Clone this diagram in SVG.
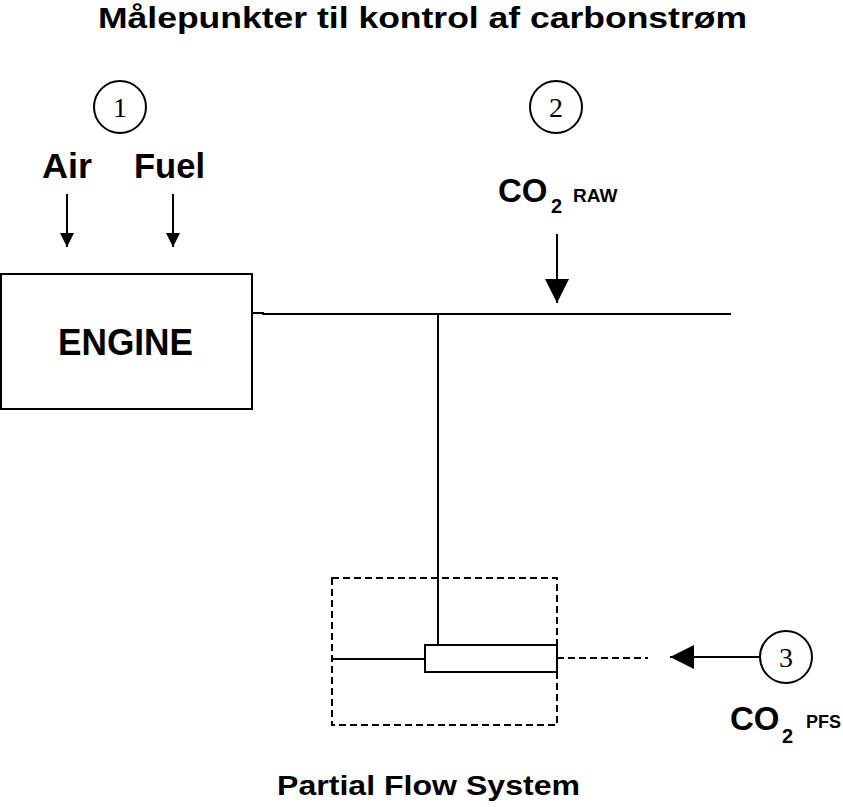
<svg xmlns="http://www.w3.org/2000/svg" width="843" height="807" viewBox="0 0 843 807">
<style>
.t{font-family:"Liberation Sans",Arial,sans-serif;font-weight:bold;fill:#000}
.n{font-family:"Liberation Serif","Times New Roman",serif;font-size:28px;fill:#000;text-anchor:middle}
.ln{stroke:#000;stroke-width:2;fill:none}
.dash{stroke:#000;stroke-width:2;fill:none;stroke-dasharray:7,4}
</style>
<defs>
<marker id="ah" viewBox="0 0 10 10" refX="10" refY="5" markerWidth="14" markerHeight="14" markerUnits="userSpaceOnUse" orient="auto"><path d="M0,0 L10,5 L0,10 Z" fill="#000"/></marker>
<marker id="ahb" viewBox="0 0 10 10" refX="10" refY="5" markerWidth="24" markerHeight="24" markerUnits="userSpaceOnUse" orient="auto"><path d="M0,0 L10,5 L0,10 Z" fill="#000"/></marker>
</defs>
<rect width="843" height="807" fill="#fff"/>
<text class="t" x="98" y="28" font-size="29" textLength="649" lengthAdjust="spacingAndGlyphs">Målepunkter til kontrol af carbonstrøm</text>

<g id="point1">
<circle cx="120" cy="107" r="26" class="ln" stroke-width="1.5"/>
<text class="n" x="120" y="117">1</text>
</g>
<g id="air"><text class="t" x="42" y="178" font-size="35" textLength="50" lengthAdjust="spacingAndGlyphs">Air</text></g>
<g id="fuel"><text class="t" x="134" y="178" font-size="35" textLength="71" lengthAdjust="spacingAndGlyphs">Fuel</text></g>

<g id="engine">
<rect x="1" y="274" width="251" height="135" class="ln"/>
<text class="t" x="58" y="355" font-size="36" textLength="135" lengthAdjust="spacingAndGlyphs">ENGINE</text>
</g>

<g id="point2">
<circle cx="556" cy="107" r="26" class="ln" stroke-width="1.5"/>
<text class="n" x="556" y="117">2</text>
</g>
<g id="co2raw">
<text class="t" x="498" y="202" font-size="33">CO</text>
<text class="t" x="551" y="213" font-size="20">2</text>
<text class="t" x="573" y="202" font-size="19">RAW</text>
</g>

<g id="pfs">
<rect x="332" y="578" width="225" height="147" class="dash"/>
<rect x="425" y="645" width="132" height="27" class="ln"/>
<text class="t" x="277" y="795" font-size="27" textLength="303" lengthAdjust="spacingAndGlyphs">Partial Flow System</text>
</g>

<g id="point3">
<circle cx="786" cy="657" r="26" class="ln" stroke-width="1.5"/>
<text class="n" x="786" y="667">3</text>
</g>
<g id="co2pfs">
<text class="t" x="730" y="730" font-size="33">CO</text>
<text class="t" x="782" y="743" font-size="20">2</text>
<text class="t" x="806" y="728" font-size="18">PFS</text>
</g>

<g id="connectors">
<line x1="67" y1="194" x2="67" y2="247" class="ln" marker-end="url(#ah)"/>
<line x1="173" y1="194" x2="173" y2="247" class="ln" marker-end="url(#ah)"/>
<polyline points="252,313 263,313 263,314 731,314" class="ln"/>
<line x1="438" y1="314" x2="438" y2="645" class="ln"/>
<line x1="557" y1="234" x2="557" y2="303" class="ln" marker-end="url(#ahb)"/>
<line x1="332" y1="659" x2="425" y2="659" class="ln"/>
<line x1="557" y1="658" x2="648" y2="658" class="dash" stroke-width="2.5" stroke-dasharray="7,3"/>
<line x1="760" y1="657" x2="670" y2="657" class="ln" marker-end="url(#ahb)"/>
</g>
</svg>
